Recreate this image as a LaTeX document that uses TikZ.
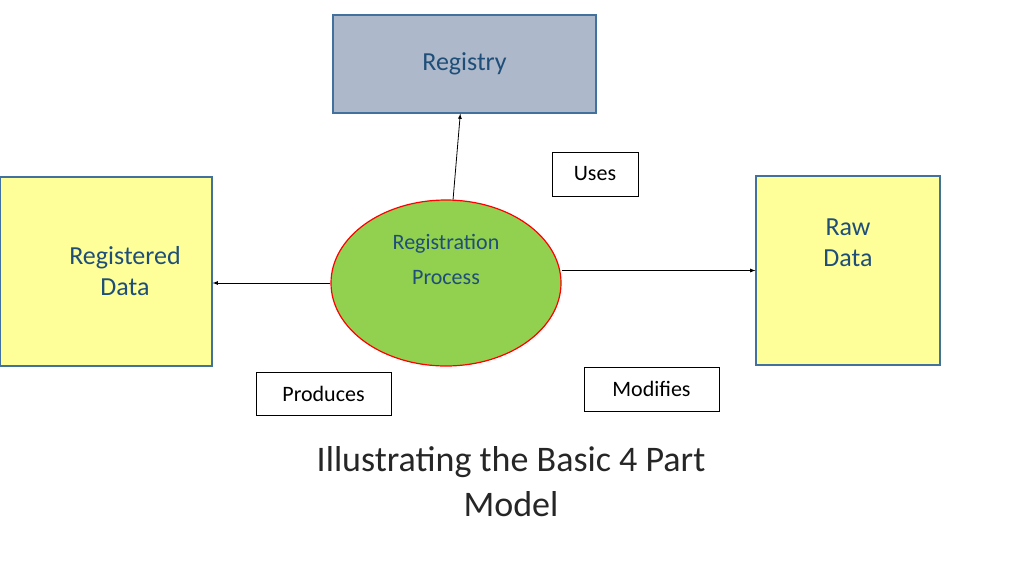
\documentclass[tikz,border=0pt]{standalone}
\usepackage{fontspec}
\setmainfont{Carlito}
\usetikzlibrary{shapes.geometric, arrows}
\definecolor{boxblue}{HTML}{41719C}
\definecolor{textblue}{HTML}{1F4E79}
\definecolor{regfill}{HTML}{ADB9CA}
\definecolor{datafill}{HTML}{FFFF99}
\definecolor{procfill}{HTML}{92D050}
\tikzstyle{arrow} = [thick,-latex]
\tikzstyle{part} = [draw=boxblue, line width=1.2pt, text=textblue, font=\fontsize{26}{31}\selectfont, align=center, inner sep=0pt]
\tikzstyle{tag} = [draw, thick, font=\fontsize{22}{26}\selectfont, inner sep=0pt]
\begin{document}
\begin{tikzpicture}[x=1pt,y=-1pt]
	\useasboundingbox (0,0) rectangle (1024,576);
	
	% The four parts
	\node[part, fill=regfill, minimum width=263pt, minimum height=98pt] (registry) at (464.5,64) {Registry};
	\node[part, fill=datafill, minimum width=212pt, minimum height=189pt] (regdata) at (106,271.5) {\hspace*{38pt}Registered\\\hspace*{38pt}Data};
	\node[part, fill=datafill, minimum width=184pt, minimum height=189pt] (raw) at (848,270.5) {Raw\\Data\\[24pt]};
	\node[ellipse, draw=red, line width=1.2pt, fill=procfill, text=textblue, minimum width=230pt, minimum height=166pt, align=center, font=\fontsize{22}{35}\selectfont] (proc) at (446,283) {Registration\\Process\\[12pt]};
	
	% Connectors
	\draw[arrow] (proc) -- (registry);
	\draw[arrow] (proc.west) -- (regdata.east |- proc.west);
	\draw[arrow] (proc.east |- raw.west) -- (raw.west);
	
	% Labels
	\node[tag, minimum width=86pt, minimum height=44pt] (uses) at (595,174) {Uses};
	\node[tag, minimum width=135pt, minimum height=43pt] (produces) at (323.5,393.5) {Produces};
	\node[tag, minimum width=135pt, minimum height=44pt] (modifies) at (651.5,389) {Modifies};
	
	\node[align=center, font=\fontsize{36}{45}\selectfont, text=black!85] (title) at (511,482) {Illustrating the Basic 4 Part\\Model};
	
\end{tikzpicture}
\end{document}
